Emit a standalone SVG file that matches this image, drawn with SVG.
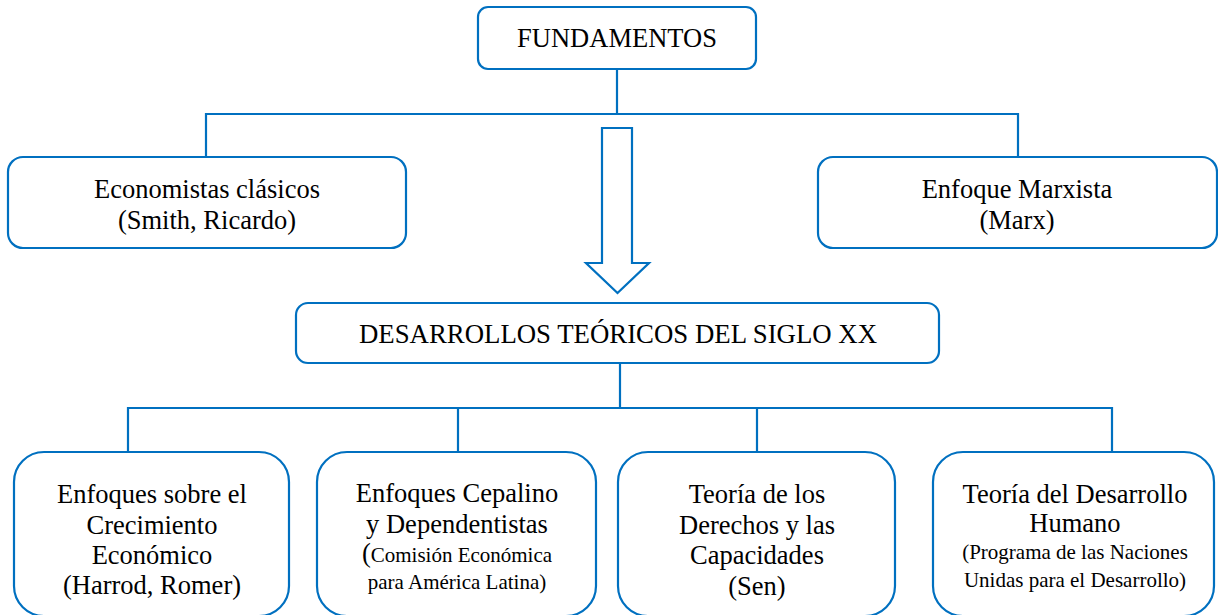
<svg xmlns="http://www.w3.org/2000/svg" width="1218" height="615" viewBox="0 0 1218 615">
<style>
.box{fill:#fff;stroke:#0070C0;stroke-width:2.2}
.ln{fill:none;stroke:#0070C0;stroke-width:2.2}
text{font-family:'Liberation Serif','Times New Roman',serif;font-size:26.5px;fill:#000;text-anchor:middle}
.sm{font-size:21px}
.lg{font-size:26.8px}
</style>
<rect width="1218" height="615" fill="#fff"/>
<g id="connectors">
<path class="ln" d="M617,69V114M206,157V114H1018V157"/>
<path class="ln" d="M620,363V408M128,452V408H1112V452M458,408V452M757,408V452"/>
<polygon class="ln" points="602,128 632,128 632,263 649,263 617.5,293 586,263 602,263"/>
</g>
<g id="fundamentos">
<rect class="box" x="478" y="7" width="278" height="62" rx="10"/>
<text x="617" y="47">FUNDAMENTOS</text>
</g>
<g id="clasicos">
<rect class="box" x="8" y="157" width="398" height="91" rx="15"/>
<text x="207" y="198">Economistas clásicos</text>
<text x="207" y="229">(Smith, Ricardo)</text>
</g>
<g id="marxista">
<rect class="box" x="818" y="157" width="399" height="91" rx="15"/>
<text x="1017" y="198">Enfoque Marxista</text>
<text x="1017" y="229">(Marx)</text>
</g>
<g id="desarrollos">
<rect class="box" x="296" y="303" width="643" height="60" rx="12"/>
<text class="lg" x="618" y="343">DESARROLLOS TEÓRICOS DEL SIGLO XX</text>
</g>
<g id="crecimiento">
<rect class="box" x="14" y="452" width="275" height="164" rx="30"/>
<text x="152" y="503">Enfoques sobre el</text>
<text x="152" y="534">Crecimiento</text>
<text x="152" y="564">Económico</text>
<text x="152" y="594">(Harrod, Romer)</text>
</g>
<g id="cepalino">
<rect class="box" x="317" y="452" width="279" height="164" rx="30"/>
<text x="457" y="502">Enfoques Cepalino</text>
<text x="457" y="533">y Dependentistas</text>
<text x="457" y="562"><tspan font-size="26.5">(</tspan><tspan class="sm">Comisión Económica</tspan></text>
<text class="sm" x="457" y="589">para América Latina)</text>
</g>
<g id="derechos">
<rect class="box" x="618" y="452" width="277" height="164" rx="30"/>
<text x="757" y="503">Teoría de los</text>
<text x="757" y="534">Derechos y las</text>
<text x="757" y="564">Capacidades</text>
<text x="757" y="595">(Sen)</text>
</g>
<g id="humano">
<rect class="box" x="933" y="452" width="281" height="164" rx="30"/>
<text x="1075" y="503">Teoría del Desarrollo</text>
<text x="1075" y="532">Humano</text>
<text class="sm" x="1075" y="559">(Programa de las Naciones</text>
<text class="sm" x="1075" y="587">Unidas para el Desarrollo)</text>
</g>
</svg>
